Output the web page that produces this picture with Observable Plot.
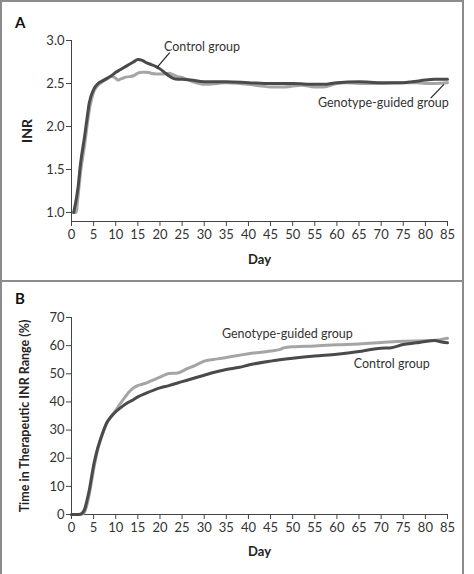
<!DOCTYPE html>
<html>
<head>
<meta charset="utf-8">
<script src="https://cdn.jsdelivr.net/npm/d3@7"></script>
<script src="https://cdn.jsdelivr.net/npm/@observablehq/plot@0.6"></script>
<style>
  body { margin: 0; background: #fff; font-family: Lato, "Open Sans", sans-serif; }
  #fig { position: relative; width: 474px; height: 574px; overflow: hidden; background: #fff; }
  #frame { position: absolute; left: 0; top: 0; width: 464px; height: 580px; z-index: 2;
           border: 2px solid #8c8c8c; border-bottom: none; box-sizing: border-box; }
  #divider { position: absolute; left: 0; top: 280px; width: 463px; height: 2px; background: #8c8c8c; z-index: 2; }
  .panel { position: absolute; left: 0; z-index: 1; }
  .tag { position: absolute; left: 15px; font: bold 15px Lato, sans-serif; color: #111; z-index: 3; }
  g[aria-label="x-axis label"] text, g[aria-label="y-axis label"] text { font-weight: bold; fill: #222; }
  #chartA g[aria-label="y-axis label"] text { font-size: 14px; }
  #chartB g[aria-label="y-axis label"] text { font-size: 12.5px; }
</style>
</head>
<body>
<div id="fig">
  <div id="frame"></div>
  <div id="divider"></div>
  <div class="tag" style="top:13px">A</div>
  <div class="tag" style="top:289px">B</div>
  <div id="chartA" class="panel" style="top:0px"></div>
  <div id="chartB" class="panel" style="top:281px"></div>
</div>
<script>
// Panel A: INR media por día
const diasControlA = [0.5,1.5,2,3,3.5,4,5,6,7,8,9,10,11,12,13,14,15,16,17,18,19,20,21,22,23,24,25,27,30,35,40,45,50,55,57,60,65,70,75,77,80,82,85];
const inrControlA  = [1.0,1.3,1.55,1.9,2.09,2.27,2.43,2.5,2.53,2.56,2.59,2.63,2.66,2.69,2.72,2.75,2.78,2.77,2.74,2.72,2.70,2.67,2.63,2.59,2.56,2.55,2.55,2.54,2.52,2.52,2.51,2.50,2.50,2.49,2.49,2.51,2.52,2.51,2.51,2.52,2.54,2.55,2.55];
const diasGenoA = [0.5,1,1.5,2,3,3.5,4,5,6,7,8,9,10,10.5,11,12,13,14,15,16,17,18,19,20,21,22,23,24,25,26,28,30,33,35,38,40,43,45,48,50,52,55,57,60,62,65,70,75,78,80,85];
const inrGenoA  = [1.0,1.0,1.2,1.45,1.8,2.0,2.18,2.4,2.48,2.52,2.55,2.58,2.56,2.54,2.55,2.57,2.58,2.59,2.62,2.63,2.63,2.62,2.61,2.61,2.61,2.62,2.60,2.58,2.57,2.55,2.51,2.49,2.50,2.51,2.50,2.49,2.47,2.46,2.46,2.47,2.48,2.46,2.46,2.50,2.51,2.50,2.50,2.51,2.51,2.50,2.51];

// Panel B: tiempo en rango terapéutico (%)
const diasControlB = [0,1,2,2.5,3,3.5,4,4.5,5,5.5,6,7,8,9,10,11,12,13,14,15,17,20,22,25,28,30,33,35,38,40,45,50,55,60,65,68,70,72,75,78,80,82,84,85];
const ttrControlB  = [0,0,0.1,0.6,2,5,8.5,13,17.5,21,24,28.8,32.7,34.8,36.5,37.8,39,40,40.8,41.8,43.2,45,45.8,47.2,48.6,49.5,50.8,51.5,52.3,53.1,54.5,55.5,56.3,56.9,57.9,58.7,59.1,59.2,60.4,61.0,61.5,61.8,61.2,61.0];
const diasGenoB = [0,1,2,2.5,3,3.5,4,4.5,5,5.5,6,7,8,9,10,11,12,13,14,15,16,17,18,20,22,24,26,28,30,33,35,38,40,45,47,48,50,55,60,65,70,75,80,83,85];
const ttrGenoB  = [0,0,0,0.2,1,3.5,7,11.5,16,20,23.5,28.5,32.5,35,37,39.3,41.5,43.5,45,45.8,46.3,46.8,47.5,48.8,50.1,50.3,51.7,53,54.5,55.3,55.8,56.6,57.1,58.1,58.6,59.2,59.6,59.9,60.3,60.6,61.1,61.6,61.7,62,62.6];

const diaTicks = d3.range(0, 90, 5);
const inrTicks = [1.0, 1.5, 2.0, 2.5, 3.0];
const ttrTicks = d3.range(0, 80, 10);

const oscuro = "#4a4a4a";
const claro = "#a5a5a5";

const toRows = (xs, ys) => xs.map((x, i) => ({dia: x, v: ys[i]}));

const estilo = {fontFamily: "Lato, sans-serif", fontSize: "13px", color: "#333", background: "transparent", overflow: "visible"};

function ejes(yTicks, yFmt, yLabel, yOff, xOff) {
  return [
    Plot.axisX({ticks: diaTicks, tickSize: 5, tickPadding: 3, label: "Day", labelAnchor: "center",
      labelArrow: "none", labelOffset: xOff, fontSize: 13, stroke: "#444"}),
    Plot.axisY({ticks: yTicks, tickFormat: yFmt, tickSize: 5, tickPadding: 2, label: yLabel,
      labelAnchor: "center", labelArrow: "none", labelOffset: yOff, fontSize: 13, stroke: "#444"})
  ];
}

let chartA = Plot.plot({
  width: 474, height: 280,
  marginLeft: 71, marginRight: 27, marginTop: 40, marginBottom: 59,
  style: estilo,
  x: {domain: [0, 85]},
  y: {domain: [0.895, 3.0]},
  marks: [
    ...ejes(inrTicks, d3.format(".1f"), "INR", 49, 42),
    Plot.ruleX([0], {stroke: "#444"}),
    Plot.ruleY([0.895], {stroke: "#444"}),
    Plot.line(toRows(diasGenoA, inrGenoA), {x: "dia", y: "v", stroke: claro, strokeWidth: 3, curve: "monotone-x"}),
    Plot.line(toRows(diasControlA, inrControlA), {x: "dia", y: "v", stroke: oscuro, strokeWidth: 3, curve: "monotone-x"}),
    Plot.link([{x1: 19.4, y1: 2.69, x2: 22.2, y2: 2.86}], {x1: "x1", y1: "y1", x2: "x2", y2: "y2", stroke: "#222", strokeWidth: 1.2}),
    Plot.link([{x1: 81.2, y1: 2.33, x2: 84.2, y2: 2.49}], {x1: "x1", y1: "y1", x2: "x2", y2: "y2", stroke: "#222", strokeWidth: 1.2}),
    Plot.text(["Control group"], {x: 20.9, y: 2.93, text: d => d, textAnchor: "start", fontSize: 12.5, fill: "#333"}),
    Plot.text(["Genotype-guided group"], {x: 55.7, y: 2.27, text: d => d, textAnchor: "start", fontSize: 12.5, fill: "#333"})
  ]
});

let chartB = Plot.plot({
  width: 474, height: 293,
  marginLeft: 71, marginRight: 27, marginTop: 36, marginBottom: 60,
  style: estilo,
  x: {domain: [0, 85]},
  y: {domain: [0, 70]},
  marks: [
    ...ejes(ttrTicks, d3.format("d"), "Time in Therapeutic INR Range (%)", 51, 41),
    Plot.ruleX([0], {stroke: "#444"}),
    Plot.ruleY([0], {stroke: "#444"}),
    Plot.line(toRows(diasGenoB, ttrGenoB), {x: "dia", y: "v", stroke: claro, strokeWidth: 3, curve: "monotone-x"}),
    Plot.line(toRows(diasControlB, ttrControlB), {x: "dia", y: "v", stroke: oscuro, strokeWidth: 3, curve: "monotone-x"}),
    Plot.text(["Genotype-guided group"], {x: 34.0, y: 64.1, text: d => d, textAnchor: "start", fontSize: 12.5, fill: "#333"}),
    Plot.text(["Control group"], {x: 63.8, y: 53.4, text: d => d, textAnchor: "start", fontSize: 12.5, fill: "#333"})
  ]
});

d3.select("#chartA").append(() => chartA);
d3.select("#chartB").append(() => chartB);
</script>
</body>
</html>
